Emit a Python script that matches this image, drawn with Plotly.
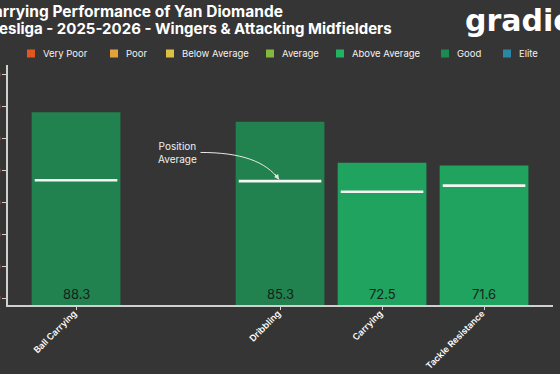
import plotly.graph_objects as go

# ---- data ----
categories = ["Ball Carrying", "Dribbling", "Carrying", "Tackle Resistance"]
slot_order = ["Ball Carrying", " ", "Dribbling", "Carrying", "Tackle Resistance"]
values = [88.3, 85.3, 72.5, 71.6]
position_avg = [67.0, 66.7, 63.4, 65.3]
ratings = ["Good", "Good", "Above Average", "Above Average"]
legend_labels = ["Very Poor", "Poor", "Below Average", "Average", "Above Average", "Good", "Elite"]
legend_colors = ["#e0581f", "#e0a23a", "#dcc043", "#82b83b", "#21b262", "#1f8a50", "#2b86a6"]
y_ticks = [30, 40, 50, 60, 70, 80, 90, 100]

title_line1 = "Ball Carrying Performance of Yan Diomande"
title_line2 = "Bundesliga - 2025-2026 - Wingers & Attacking Midfielders"

BG = "#353535"
FONT = "Inter"
bar_color_map = {"Good": "#21814f", "Above Average": "#1fa35f"}

# layout geometry (pixels)
W, H = 560, 374
ML, MR, MT, MB = 8, 7, 65, 69
PW, PH = W - ML - MR, H - MT - MB


def px_x(px):
    return (px - ML) / PW


def px_y(py):
    return (H - MB - py) / PH


xidx = [slot_order.index(c) for c in categories]

fig = go.Figure()
fig.add_trace(go.Bar(x=xidx, y=values, width=0.87, showlegend=False, hoverinfo="skip",
                     marker=dict(color=[bar_color_map[r] for r in ratings], line=dict(width=0))))

shapes = []
annotations = []

for xi, a in zip(xidx, position_avg):
    shapes.append(dict(type="line", xref="x", yref="y", x0=xi - 0.405, x1=xi + 0.405,
                       y0=a, y1=a, line=dict(color="#f4f4f4", width=2.6)))

# manual legend
legend_sq_left = [27, 110, 166, 266, 336, 441, 503]
LEG_Y = 53.5
for lab, col, lx in zip(legend_labels, legend_colors, legend_sq_left):
    shapes.append(dict(type="rect", xref="paper", yref="paper",
                       x0=px_x(lx), x1=px_x(lx + 8), y0=px_y(LEG_Y + 4), y1=px_y(LEG_Y - 4),
                       fillcolor=col, line=dict(width=0)))
    annotations.append(dict(x=px_x(lx + 14), y=px_y(LEG_Y), xref="paper", yref="paper",
                            text=lab, showarrow=False, xanchor="left", yanchor="middle",
                            font=dict(family=FONT, size=9.5, color="#f2f2f2")))

# curved arrow for "Position Average"
di = xidx[categories.index("Dribbling")]
da = position_avg[categories.index("Dribbling")]
sx, sy = di - 0.78, da + 9.0
ex, ey = di - 0.01, da + 0.5
c1x, c1y = di - 0.38, da + 9.0
c2x, c2y = di - 0.14, da + 6.2
shapes.append(dict(type="path", xref="x", yref="y",
                   path=f"M {sx},{sy} C {c1x},{c1y} {c2x},{c2y} {ex},{ey}",
                   line=dict(color="#e8e8e8", width=1)))

# value labels
for xi, v in zip(xidx, values):
    annotations.append(dict(x=xi, y=0, xref="x", yref="y domain", text=f"{v:.1f}",
                            showarrow=False, yanchor="bottom", yshift=1,
                            font=dict(family=FONT, size=13, color="#14241b")))
annotations.append(dict(x=ex, y=ey, xref="x", yref="y", ax=-5, ay=-7, text="",
                        showarrow=True, arrowhead=2, arrowsize=1, arrowwidth=1,
                        arrowcolor="#e8e8e8"))
annotations.append(dict(x=sx, y=sy, xref="x", yref="y", text="Position<br>Average",
                        showarrow=False, xanchor="right", xshift=-1, align="center",
                        font=dict(family=FONT, size=10, color="#f0f0f0")))
# titles
annotations.append(dict(x=px_x(285), y=px_y(12), xref="paper", yref="paper",
                        text=f"<b>{title_line1}</b>", showarrow=False,
                        xanchor="right", yanchor="middle",
                        font=dict(family=FONT, size=15.5, color="white")))
annotations.append(dict(x=px_x(394), y=px_y(28), xref="paper", yref="paper",
                        text=f"<b>{title_line2}</b>", showarrow=False,
                        xanchor="right", yanchor="middle",
                        font=dict(family=FONT, size=15, color="white")))
annotations.append(dict(x=px_x(463), y=px_y(20), xref="paper", yref="paper", text="<b>gradient</b>",
                        showarrow=False, xanchor="left", yanchor="middle",
                        font=dict(family="DejaVu Sans", size=30, color="white")))

fig.update_layout(
    width=W, height=H,
    paper_bgcolor=BG, plot_bgcolor=BG,
    margin=dict(l=ML, r=MR, t=MT, b=MB),
    showlegend=False,
    hovermode=False,
    shapes=shapes, annotations=annotations,
    xaxis=dict(range=[-0.667, 4.676], tickmode="array", tickvals=xidx, ticktext=categories,
               tickangle=-45, showgrid=False, zeroline=False, showline=True,
               linecolor="#d0d0d0", linewidth=1.5, ticks="outside", ticklen=3,
               tickcolor="#d0d0d0", automargin=False, ticklabelstandoff=-5,
               ticklabelshift=-2,
               tickfont=dict(family=FONT, size=9, color="white", weight=600)),
    yaxis=dict(range=[27.9, 103.1], tickvals=y_ticks, showgrid=False, zeroline=False,
               showline=True, linecolor="#d0d0d0", linewidth=1.5, ticks="outside",
               ticklen=4, tickcolor="#d0d0d0", automargin=False,
               tickfont=dict(family=FONT, size=9, color="white")),
    font=dict(family=FONT, color="white"),
)

fig.write_html("out.html", config={"displayModeBar": False},
               post_script="document.body.style.margin='0';document.body.style.background='" + BG + "';")
